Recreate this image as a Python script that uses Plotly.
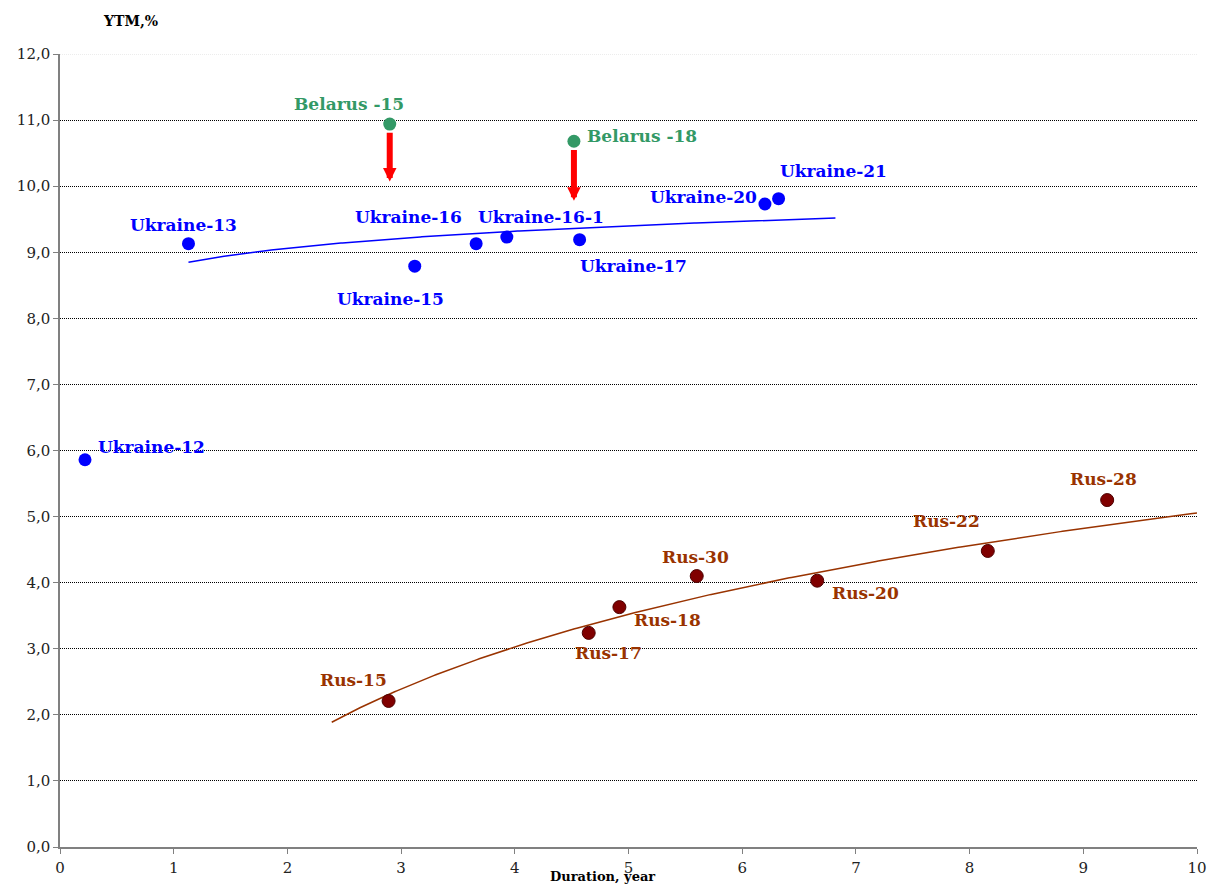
import numpy as np
import plotly.graph_objects as go

# Ukrainian Eurobonds: duration (years) and yield to maturity (%)
ukr_names = ["Ukraine-12", "Ukraine-13", "Ukraine-15", "Ukraine-16",
             "Ukraine-16-1", "Ukraine-17", "Ukraine-20", "Ukraine-21"]
ukr_dur = [0.22, 1.13, 3.12, 3.66, 3.93, 4.57, 6.20, 6.32]
ukr_ytm = [5.86, 9.13, 8.79, 9.13, 9.23, 9.19, 9.73, 9.81]
ukr_in_trend = [False, True, True, True, True, True, True, True]

# Belarusian Eurobonds and the expected yield after the move down
bel_names = ["Belarus -15", "Belarus -18"]
bel_dur = [2.90, 4.52]
bel_ytm = [10.94, 10.68]
bel_target = [10.07, 9.78]

# Russian Eurobonds
rus_names = ["Rus-15", "Rus-17", "Rus-18", "Rus-30", "Rus-20", "Rus-22", "Rus-28"]
rus_dur = [2.89, 4.65, 4.92, 5.60, 6.66, 8.16, 9.21]
rus_ytm = [2.21, 3.24, 3.63, 4.10, 4.03, 4.48, 5.25]
rus_in_trend = [True, True, True, True, True, True, False]

y_ticks = [0, 1, 2, 3, 4, 5, 6, 7, 8, 9, 10, 11, 12]
x_ticks = [0, 1, 2, 3, 4, 5, 6, 7, 8, 9, 10]

BLUE = "#0000FF"
GREEN = "#339966"
RUS_MARK = "#800000"
RUS_TEXT = "#993300"
FONT = "DejaVu Serif"

# label offsets in pixels (dx right, dy up) relative to each point
label_offsets = {
    "Ukraine-12": (66, 13), "Ukraine-13": (-5, 19), "Ukraine-15": (-24, -33),
    "Ukraine-16": (-68, 27), "Ukraine-16-1": (34, 20), "Ukraine-17": (54, -26),
    "Ukraine-20": (-61, 7), "Ukraine-21": (55, 28),
    "Belarus -15": (-41, 20), "Belarus -18": (68, 5),
    "Rus-15": (-35, 21), "Rus-17": (20, -20), "Rus-18": (48, -13),
    "Rus-30": (-1, 19), "Rus-20": (48, -12), "Rus-22": (-41, 30),
    "Rus-28": (-4, 21),
}


def log_trend(xs, ys, flags, x_from, x_to):
    """Least-squares fit y = a + b*ln(x) over the flagged points."""
    xf = np.array([x for x, f in zip(xs, flags) if f])
    yf = np.array([y for y, f in zip(ys, flags) if f])
    b, a = np.polyfit(np.log(xf), yf, 1)
    xt = np.linspace(x_from, x_to, 400)
    return xt, a + b * np.log(xt)


ukr_fit_x = [x for x, f in zip(ukr_dur, ukr_in_trend) if f]
ukr_tx, ukr_ty = log_trend(ukr_dur, ukr_ytm, ukr_in_trend,
                           min(ukr_fit_x), max(ukr_fit_x) + 0.5)
rus_fit_x = [x for x, f in zip(rus_dur, rus_in_trend) if f]
rus_tx, rus_ty = log_trend(rus_dur, rus_ytm, rus_in_trend,
                           min(rus_fit_x) - 0.5, x_ticks[-1])

fig = go.Figure()

fig.add_trace(go.Scatter(x=ukr_tx, y=ukr_ty, mode="lines",
                         line=dict(color=BLUE, width=1.5), hoverinfo="skip"))
fig.add_trace(go.Scatter(x=rus_tx, y=rus_ty, mode="lines",
                         line=dict(color=RUS_TEXT, width=1.5), hoverinfo="skip"))

fig.add_trace(go.Scatter(x=ukr_dur, y=ukr_ytm, mode="markers", text=ukr_names,
                         marker=dict(color=BLUE, size=13)))
fig.add_trace(go.Scatter(x=bel_dur, y=bel_ytm, mode="markers", text=bel_names,
                         marker=dict(color=GREEN, size=13)))
fig.add_trace(go.Scatter(x=rus_dur, y=rus_ytm, mode="markers", text=rus_names,
                         marker=dict(color=RUS_MARK, size=13,
                                     line=dict(color="#4d0000", width=1))))

annotations = []


def add_labels(names, xs, ys, color):
    for n, x, y in zip(names, xs, ys):
        dx, dy = label_offsets[n]
        annotations.append(dict(
            x=x, y=y, xref="x", yref="y", text=n, showarrow=False,
            xshift=dx, yshift=dy, xanchor="center", yanchor="middle",
            font=dict(family=FONT, size=17, color=color, weight="bold")))


add_labels(ukr_names, ukr_dur, ukr_ytm, BLUE)
add_labels(bel_names, bel_dur, bel_ytm, GREEN)
add_labels(rus_names, rus_dur, rus_ytm, RUS_TEXT)

# red arrows showing the expected fall of Belarusian yields
for x, y0, y1 in zip(bel_dur, bel_ytm, bel_target):
    annotations.append(dict(
        x=x, y=y1, ax=x, ay=y0 - 0.11, xref="x", yref="y", axref="x", ayref="y",
        text="", showarrow=True, arrowhead=2, arrowsize=0.45, arrowwidth=6,
        arrowcolor="#FF0000", standoff=0))

# axis titles
annotations.append(dict(
    x=(130 - 60) / 1137, y=1 + (54 - 21) / 793, xref="x domain", yref="y domain",
    text="YTM,%", showarrow=False, xanchor="center", yanchor="middle",
    font=dict(family=FONT, size=14, color="black", weight="bold")))
annotations.append(dict(
    x=(602 - 60) / 1137, y=-(886 - 847) / 793, xref="x domain", yref="y domain",
    text="Duration, year", showarrow=False, xanchor="center", yanchor="bottom",
    font=dict(family=FONT, size=13, color="black", weight="bold")))

fig.update_layout(
    width=1210, height=886,
    margin=dict(l=60, r=13, t=54, b=39),
    paper_bgcolor="white", plot_bgcolor="white",
    showlegend=False,
    separators=",.",
    annotations=annotations,
    # lighter top border of the plot area
    shapes=[
        dict(type="line", xref="x domain", yref="y", x0=0, x1=1, y0=12, y1=12,
             line=dict(color="white", width=2), layer="above"),
        dict(type="line", xref="x domain", yref="y", x0=0, x1=1, y0=12, y1=12,
             line=dict(color="#d9d9d9", width=1, dash="1px,1px"), layer="above"),
    ],
    xaxis=dict(
        range=[x_ticks[0], x_ticks[-1]], tickvals=x_ticks,
        showgrid=False, zeroline=False, automargin=False,
        showline=True, linecolor="#808080", linewidth=1.5,
        ticks="outside", ticklen=5, tickcolor="#808080",
        ticklabelstandoff=1,
        tickfont=dict(family=FONT, size=15, color="#222222"),
    ),
    yaxis=dict(
        range=[y_ticks[0], y_ticks[-1]], tickvals=y_ticks, tickformat=".1f",
        showgrid=True, gridcolor="#000000", gridwidth=1, griddash="1px,1px",
        zeroline=False, automargin=False,
        showline=True, linecolor="#808080", linewidth=1.5,
        ticks="outside", ticklen=5, tickcolor="#808080",
        tickfont=dict(family=FONT, size=15, color="#222222"),
    ),
)

fig.write_html("out.html")
